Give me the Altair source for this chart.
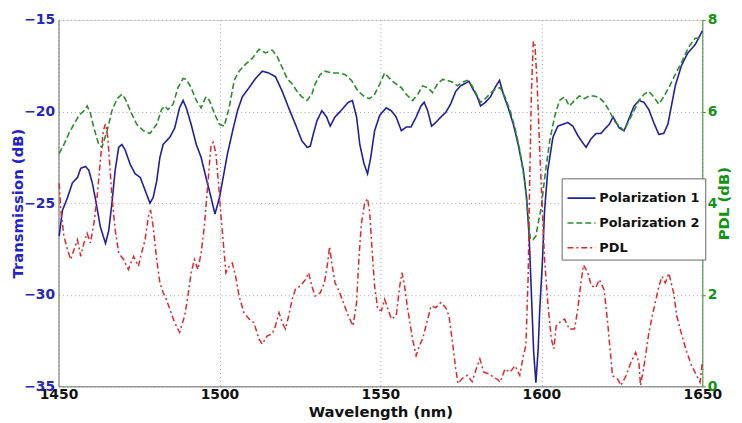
import altair as alt
import pandas as pd

# ---- data ----
p1_wl = [1450.2, 1451.2, 1452.8, 1454.3, 1455.9, 1456.9, 1458.4, 1459.4, 1460.5, 1461.5,
         1463.0, 1464.6, 1465.6, 1466.6, 1467.6, 1468.7, 1469.7, 1470.7, 1472.3, 1473.8,
         1475.4, 1476.9, 1478.4, 1479.4, 1480.5, 1481.5, 1482.5, 1484.6, 1486.1, 1487.6,
         1488.7, 1489.7, 1491.2, 1492.8, 1494.3, 1495.8, 1497.4, 1498.6, 1500.0, 1501.0,
         1502.5, 1504.1, 1505.6, 1507.1, 1509.2, 1511.2, 1513.3, 1515.3, 1517.4, 1519.5,
         1521.5, 1523.6, 1525.6, 1527.2, 1528.2, 1529.2, 1530.3, 1531.8, 1533.3, 1534.4,
         1535.9, 1538.0, 1540.0, 1541.3, 1542.6, 1543.6, 1544.9, 1546.0, 1547.0, 1548.2,
         1549.8, 1551.8, 1553.4, 1554.9, 1556.5, 1558.0, 1559.5, 1561.1, 1562.6, 1563.6,
         1564.7, 1565.9, 1567.2, 1568.8, 1570.3, 1571.8, 1573.4, 1574.9, 1576.5, 1577.5,
         1578.5, 1580.1, 1581.1, 1582.6, 1584.2, 1585.6, 1587.0, 1588.2, 1589.7, 1591.3,
         1592.8, 1594.4, 1595.4, 1596.2, 1596.9, 1597.6, 1598.3, 1599.0, 1599.5, 1600.3,
         1601.0, 1602.0, 1603.6, 1605.1, 1606.7, 1608.2, 1609.8, 1611.3, 1612.8, 1613.9,
         1615.4, 1617.0, 1618.5, 1620.0, 1621.1, 1622.3, 1624.2, 1625.7, 1627.2, 1628.8,
         1630.3, 1631.9, 1633.4, 1634.9, 1636.5, 1638.0, 1639.3, 1640.4, 1641.6, 1643.5,
         1645.5, 1647.8, 1650.0]
p1_db = [-26.8, -25.4, -24.7, -23.9, -23.6, -23.1, -23.0, -23.2, -23.9, -24.8,
         -26.3, -27.2, -26.5, -25.0, -23.2, -21.95, -21.8, -22.1, -22.9, -23.4,
         -23.6, -24.3, -25.0, -24.7, -23.8, -22.5, -21.8, -21.4, -20.9, -19.8,
         -19.4, -19.8, -20.7, -21.8, -22.5, -23.6, -24.7, -25.6, -24.7, -23.75,
         -22.3, -21.05, -19.96, -19.2, -18.7, -18.2, -17.8, -17.9, -18.1, -18.9,
         -19.8, -20.7, -21.6, -21.95, -21.9, -21.2, -20.5, -19.96, -20.3, -20.8,
         -20.3, -19.9, -19.5, -19.4, -20.3, -21.8, -22.85, -23.4, -22.5, -21.05,
         -20.2, -19.8, -19.96, -20.3, -21.05, -20.85, -20.85, -20.3, -19.7, -19.5,
         -19.96, -20.8, -20.6, -20.3, -20.05, -19.6, -18.9, -18.6, -18.45, -18.35,
         -18.7, -19.2, -19.7, -19.5, -19.2, -18.7, -18.3, -19.06, -19.8, -20.7,
         -21.8, -23.2, -24.7, -26.8, -29.9, -33.1, -34.8, -33.0, -30.8, -28.3,
         -25.4, -23.2, -21.4, -20.8, -20.7, -20.6, -20.8, -21.3, -21.7, -21.95,
         -21.5, -21.2, -21.2, -20.9, -20.7, -20.3, -20.9, -21.05, -20.4, -19.7,
         -19.4, -19.5, -19.9, -20.6, -21.25, -21.2, -20.7, -19.7, -18.6, -17.5,
         -16.8, -16.35, -15.6]

p2_wl = [1450.2, 1451.7, 1453.2, 1454.8, 1456.4, 1457.9, 1458.9, 1459.9, 1461.0, 1462.5,
         1463.5, 1465.1, 1466.6, 1468.2, 1469.7, 1470.7, 1472.3, 1474.3, 1476.4, 1478.4,
         1480.5, 1482.0, 1483.0, 1484.0, 1485.6, 1487.1, 1488.7, 1489.7, 1491.2, 1492.8,
         1494.3, 1495.8, 1496.9, 1498.4, 1500.0, 1501.5, 1503.0, 1504.6, 1506.1, 1508.2,
         1510.2, 1512.3, 1514.3, 1516.4, 1517.9, 1519.5, 1521.0, 1522.6, 1524.1, 1525.6,
         1527.2, 1528.7, 1529.7, 1531.3, 1532.8, 1534.9, 1536.9, 1539.0, 1541.0, 1543.1,
         1545.1, 1546.7, 1548.2, 1549.8, 1551.3, 1553.4, 1554.9, 1556.5, 1558.0, 1560.0,
         1561.6, 1563.1, 1564.7, 1566.2, 1567.7, 1569.3, 1570.8, 1572.4, 1573.9, 1575.4,
         1577.0, 1578.5, 1580.1, 1581.1, 1582.6, 1584.2, 1585.6, 1587.2, 1588.7, 1590.3,
         1591.8, 1593.3, 1594.9, 1595.9, 1596.6, 1597.4, 1598.3, 1599.0, 1600.0, 1600.7,
         1601.5, 1602.6, 1604.1, 1605.6, 1607.2, 1608.7, 1610.3, 1611.8, 1613.4, 1614.9,
         1616.4, 1618.0, 1619.5, 1621.1, 1622.6, 1624.2, 1625.7, 1627.2, 1628.8, 1630.3,
         1631.9, 1633.4, 1634.9, 1636.5, 1638.0, 1639.6, 1641.6, 1643.7, 1645.7, 1647.8,
         1649.8]
p2_db = [-22.3, -21.8, -21.2, -20.7, -20.2, -19.96, -19.7, -20.1, -20.9, -21.8,
         -21.95, -21.05, -19.96, -19.3, -19.06, -19.3, -19.96, -20.7, -21.05, -21.2,
         -20.7, -19.9, -19.7, -19.9, -19.6, -18.7, -18.2, -18.25, -18.7, -19.4,
         -19.8, -19.2, -19.4, -20.1, -20.7, -20.8, -19.8, -18.3, -17.8, -17.4,
         -17.1, -16.6, -16.8, -16.65, -17.0, -17.6, -18.2, -18.5, -18.9, -19.2,
         -19.4, -19.06, -18.5, -17.98, -17.8, -17.9, -17.9, -17.98, -18.3, -18.9,
         -19.2, -19.3, -19.06, -18.5, -17.9, -18.3, -18.5, -18.7, -19.06, -19.4,
         -19.06, -18.6, -18.7, -18.97, -18.5, -18.25, -18.3, -18.4, -18.6, -18.4,
         -18.3, -18.6, -19.15, -19.5, -19.3, -19.0, -18.8, -18.7, -19.2, -19.96,
         -20.9, -22.1, -23.9, -25.7, -27.0, -27.0, -26.8, -26.1, -25.2, -24.1,
         -23.0, -21.6, -20.3, -19.4, -19.2, -19.7, -19.4, -19.15, -19.3, -19.15,
         -19.15, -19.25, -19.5, -19.96, -20.5, -20.8, -21.05, -20.5, -19.96, -19.4,
         -19.06, -18.9, -19.2, -19.6, -19.2, -18.7, -17.98, -17.26, -16.5, -16.0,
         -16.0]

pdl_wl = [1450.2, 1450.7, 1451.7, 1452.8, 1453.8, 1454.8, 1455.9, 1456.9, 1457.9, 1458.9,
          1459.9, 1461.0, 1462.0, 1463.0, 1463.9, 1464.6, 1465.3, 1465.9, 1466.6, 1467.6,
          1468.7, 1470.2, 1471.7, 1473.3, 1474.8, 1475.8, 1476.9, 1477.9, 1478.6, 1479.4,
          1480.5, 1481.5, 1482.5, 1483.5, 1484.6, 1486.1, 1487.6, 1489.2, 1490.2, 1491.2,
          1492.2, 1493.3, 1494.3, 1495.3, 1496.4, 1497.4, 1498.1, 1498.9, 1499.7, 1500.5,
          1501.2, 1502.0, 1503.0, 1504.0, 1505.0, 1506.1, 1507.6, 1509.2, 1510.7, 1512.3,
          1513.3, 1514.8, 1516.4, 1517.4, 1518.5, 1519.5, 1520.5, 1521.5, 1522.6, 1523.6,
          1525.1, 1526.7, 1527.7, 1528.7, 1529.7, 1531.3, 1532.6, 1533.6, 1534.2, 1534.9,
          1535.9, 1536.9, 1538.5, 1540.0, 1541.5, 1542.6, 1543.3, 1544.1, 1545.1, 1546.0,
          1546.7, 1547.4, 1548.2, 1549.2, 1550.3, 1551.3, 1552.4, 1553.4, 1554.9, 1556.0,
          1556.7, 1557.5, 1558.5, 1560.0, 1561.1, 1562.1, 1563.1, 1564.7, 1565.7, 1567.2,
          1568.8, 1570.3, 1571.3, 1572.4, 1573.4, 1574.1, 1575.4, 1577.0, 1578.5, 1580.1,
          1580.9, 1582.1, 1583.7, 1585.2, 1586.4, 1587.2, 1588.7, 1590.3, 1591.8, 1593.3,
          1594.4, 1595.2, 1595.9, 1596.4, 1596.9, 1597.5, 1598.0, 1598.7, 1599.5, 1600.3,
          1601.0, 1602.0, 1603.1, 1603.9, 1604.6, 1605.6, 1607.2, 1608.7, 1610.3, 1611.3,
          1612.3, 1613.1, 1614.4, 1615.5, 1616.9, 1618.0, 1619.5, 1620.6, 1622.1, 1623.7,
          1624.7, 1626.3, 1627.8, 1629.3, 1630.3, 1630.8, 1631.9, 1633.4, 1634.9, 1636.5,
          1637.5, 1638.5, 1639.6, 1641.1, 1642.1, 1643.7, 1645.2, 1646.7, 1648.3, 1649.3,
          1650.0]
pdl_db = [4.43, 3.85, 3.27, 2.98, 2.77, 2.98, 3.2, 2.84, 3.13, 3.34,
          3.13, 3.56, 4.14, 4.93, 5.58, 5.73, 5.44, 4.86, 4.14, 3.42,
          2.91, 2.77, 2.55, 2.84, 2.62, 2.91, 3.2, 3.7, 3.85, 3.49,
          2.77, 2.26, 2.05, 1.9, 1.68, 1.39, 1.18, 1.54, 1.97, 2.48,
          2.77, 2.55, 2.91, 3.49, 4.43, 5.29, 5.33, 5.08, 4.43, 3.7,
          3.13, 2.48, 2.62, 2.69, 2.41, 1.97, 1.61, 1.47, 1.39, 1.03,
          0.92, 1.1, 1.15, 1.32, 1.61, 1.39, 1.25, 1.54, 1.9, 2.12,
          2.19, 2.33, 2.48, 2.19, 1.97, 2.04, 2.26, 2.69, 3.05, 2.69,
          2.26, 2.12, 1.83, 1.54, 1.32, 1.83, 2.77, 3.56, 3.99, 4.1,
          3.78, 2.98, 2.19, 1.68, 1.65, 1.9, 1.68, 1.47, 1.54, 2.19,
          2.48, 2.19, 1.68, 1.03, 0.67, 0.89, 1.03, 1.47, 1.75, 1.72,
          1.83, 1.72, 1.54, 0.96, 0.38, 0.06, 0.17, 0.24, 0.1, 0.45,
          0.6, 0.31, 0.27, 0.2, 0.15, 0.09, 0.38, 0.31, 0.45, 0.24,
          0.67, 0.89, 2.4, 4.57, 6.38, 7.53, 7.46, 6.6, 5.15, 3.85,
          2.77, 1.83, 1.03, 0.82, 1.32, 1.39, 1.47, 1.25, 1.25, 1.68,
          2.26, 2.65, 2.48, 2.2, 2.15, 2.33, 2.11, 1.39, 0.23, 0.16,
          0.02, 0.23, 0.52, 0.74, 0.52, 0.02, 0.45, 1.17, 1.68, 2.18,
          2.4, 2.26, 2.47, 2.04, 1.53, 1.1, 0.74, 0.45, 0.23, 0.09,
          0.52]

series_names = ["Polarization 1", "Polarization 2", "PDL"]
series_colors = ["#1f1fa3", "#2b8c2b", "#e0262a"]
series_dashes = [[1, 0], [6, 3], [6, 3, 2, 3]]

x_ticks = [1450, 1500, 1550, 1600, 1650]
left_ticks = [-35, -30, -25, -20, -15]
right_ticks = [0, 2, 4, 6, 8]

# ---- tables ----
df_t = pd.concat([
    pd.DataFrame({"wl": p1_wl, "val": p1_db, "series": series_names[0]}),
    pd.DataFrame({"wl": p2_wl, "val": p2_db, "series": series_names[1]}),
])
df_p = pd.DataFrame({"wl": pdl_wl, "val": pdl_db, "series": series_names[2]})

FONT = "DejaVu Sans"

x_enc = alt.X(
    "wl:Q",
    scale=alt.Scale(domain=[1450, 1650], nice=False),
    axis=alt.Axis(
        values=x_ticks, format="d", title="Wavelength (nm)",
        labelFont=FONT, labelFontSize=14, labelFontWeight="bold", labelColor="#111",
        labelPadding=1, ticks=False, labelFlush=False,
        titleFont=FONT, titleFontSize=15, titleFontWeight="bold", titleColor="#111",
        titleBaseline="bottom", titleY=33,
        grid=True, gridDash=[1, 3], gridColor="#999", gridOpacity=0.9,
        domainColor="#777",
    ),
)

legend_kw = dict(
    title=None, orient="none", legendX=508, legendY=160,
    fillColor="white", strokeColor="#666", padding=5,
    labelFont=FONT, labelFontSize=13, labelFontWeight="bold", labelColor="#111",
    symbolType="stroke", symbolSize=800, symbolStrokeWidth=1.6, labelOffset=3,
    rowPadding=3,
)
color_enc = alt.Color("series:N",
                      scale=alt.Scale(domain=series_names, range=series_colors),
                      legend=alt.Legend(**legend_kw))
dash_enc = alt.StrokeDash("series:N",
                          scale=alt.Scale(domain=series_names, range=series_dashes),
                          legend=alt.Legend(**legend_kw))

trans = alt.Chart(df_t).mark_line(strokeWidth=1.6).encode(
    x=x_enc,
    y=alt.Y("val:Q", scale=alt.Scale(domain=[-35, -15], nice=False),
            axis=alt.Axis(values=left_ticks, title="Transmission (dB)",
                          labelFont=FONT, labelFontSize=14, labelFontWeight="bold",
                          labelColor="#2626c0", labelPadding=4, ticks=False,
                          labelFlush=False,
                          titleFont=FONT, titleFontSize=15, titleFontWeight="bold",
                          titleColor="#2222cc", titleX=-41, titleBaseline="middle",
                          grid=True, gridDash=[1, 3], gridColor="#999", gridOpacity=0.9,
                          domainColor="#777")),
    color=color_enc,
    strokeDash=dash_enc,
)

pdl = alt.Chart(df_p).mark_line(strokeWidth=1.5).encode(
    x=x_enc,
    y=alt.Y("val:Q", scale=alt.Scale(domain=[0, 8], nice=False),
            axis=alt.Axis(values=right_ticks, title="PDL (dB)", orient="right",
                          labelFont=FONT, labelFontSize=14, labelFontWeight="bold",
                          labelColor="#139313", labelPadding=2, ticks=True, tickSize=3,
                          tickColor="#2a9a2a", labelFlush=False,
                          titleFont=FONT, titleFontSize=15, titleFontWeight="bold",
                          titleColor="#139313", titleAngle=270, titleX=21,
                          titleBaseline="middle", grid=False, domainColor="#3a9a3a")),
    color=color_enc,
    strokeDash=dash_enc,
)

chart = alt.layer(trans, pdl).resolve_scale(y="independent").properties(
    width=650, height=370,
    autosize=alt.AutoSizeParams(type="none"),
    padding={"left": 51, "top": 10, "right": 32, "bottom": 34},
).configure_view(stroke="#666", strokeWidth=1).configure(background="white")

chart.save("out.html", embed_options={"renderer": "svg", "actions": False})
